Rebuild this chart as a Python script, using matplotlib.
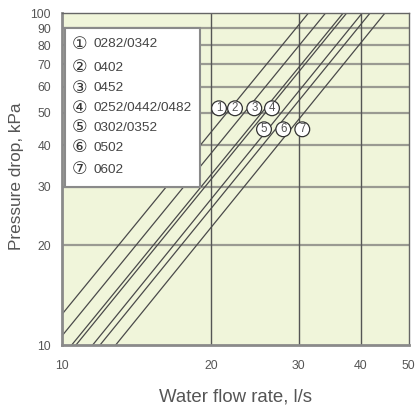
import numpy as np
import matplotlib
matplotlib.use("Agg")
import matplotlib.pyplot as plt
from matplotlib.patches import Rectangle

# ---- data ----
# each curve defined by flow rate (l/s) at 10 kPa and at 100 kPa (straight on log-log)
curve_ids = ["1", "2", "3", "4", "5", "6", "7"]
flow_at_10kpa = [8.9, 9.66, 10.46, 10.67, 11.53, 11.93, 12.83]
flow_at_100kpa = [31.4, 34.0, 36.9, 37.5, 40.3, 41.8, 44.8]
pressure_ends = [10, 100]

legend_symbols = ["\u2460", "\u2461", "\u2462", "\u2463", "\u2464", "\u2465", "\u2466"]
legend_models = ["0282/0342", "0402", "0452", "0252/0442/0482", "0302/0352", "0502", "0602"]

x_ticks = [10, 20, 30, 40, 50]
y_ticks = [10, 20, 30, 40, 50, 60, 70, 80, 90, 100]

plt.rcParams['font.family'] = ['Liberation Sans', 'DejaVu Sans', 'Noto Sans CJK JP']

fig = plt.figure(figsize=(4.17, 4.12), dpi=100)
ax = fig.add_axes([62/417, 1-345/412, (408.7-62)/417, (345-13)/412])
ax.set_facecolor('#f0f5da')
ax.set_xscale('log')
ax.set_yscale('log')
ax.set_xlim(10, 50)
ax.set_ylim(10, 100)

# grid
for yv in y_ticks[1:-1]:
    ax.axhline(yv, color='#9a9a92', lw=1.6, zorder=1)
for xv in x_ticks[1:-1]:
    ax.axvline(xv, color='#555555', lw=1.0, zorder=1)

# curves
for i in range(len(curve_ids)):
    ax.plot([flow_at_10kpa[i], flow_at_100kpa[i]], pressure_ends,
            color='#4a4a4a', lw=0.9, zorder=2)

ax.set_xticks(x_ticks)
ax.set_xticklabels([str(v) for v in x_ticks])
ax.set_yticks(y_ticks)
ax.set_yticklabels([str(v) for v in y_ticks])
ax.minorticks_off()
ax.tick_params(axis='both', length=0, colors='#555555', labelsize=8.8)
ax.tick_params(axis='x', pad=11)
ax.tick_params(axis='y', pad=8)

for s in ['left', 'bottom']:
    ax.spines[s].set_color('#8a8a8a')
    ax.spines[s].set_linewidth(2)
for s in ['top', 'right']:
    ax.spines[s].set_color('#666666')
    ax.spines[s].set_linewidth(1)

ax.set_xlabel('Water flow rate, l/s', fontsize=13.4, color='#555555')
ax.set_ylabel('Pressure drop, kPa', fontsize=12.4, color='#555555')
ax.xaxis.set_label_coords(0.5, -0.131)
ax.yaxis.set_label_coords(-0.110, 0.509)

# legend box
W, H = 346.7, 332.0
def ax_frac(px, py):
    return ((px - 62) / W, (345 - py) / H)

x0, y0 = ax_frac(65, 186.7)
x1, y1 = ax_frac(200.3, 27.7)
ax.add_patch(Rectangle((x0, y0), x1 - x0, y1 - y0, transform=ax.transAxes,
                       facecolor='white', edgecolor='#8a8a8a', lw=1.5, zorder=5))
rows_py = [44.3, 67.7, 88.3, 108.3, 127.7, 147.7, 170]
for sym, model, py in zip(legend_symbols, legend_models, rows_py):
    fx, fy = ax_frac(80, py)
    ax.text(fx, fy, sym, transform=ax.transAxes, ha='center', va='center',
            fontsize=12.5, color='#333333', zorder=6)
    fx, fy = ax_frac(93, py)
    ax.text(fx, fy, model, transform=ax.transAxes, ha='left', va='center',
            fontsize=9.7, color='#444444', zorder=6)

# circled labels on the chart
label_pos = [(219, 108.3), (235, 108.3), (254.3, 108.3), (272, 108.3),
             (264, 129.3), (283.3, 129.3), (302.3, 129.3)]
for cid, (px, py) in zip(curve_ids, label_pos):
    fx, fy = ax_frac(px, py)
    ax.text(fx, fy, cid, transform=ax.transAxes, ha='center', va='center',
            fontsize=8.3, color='#555555', zorder=7,
            bbox=dict(boxstyle='circle,pad=0.12', fc='white', ec='#333333', lw=0.9))

fig.savefig('out.png', dpi=100)
